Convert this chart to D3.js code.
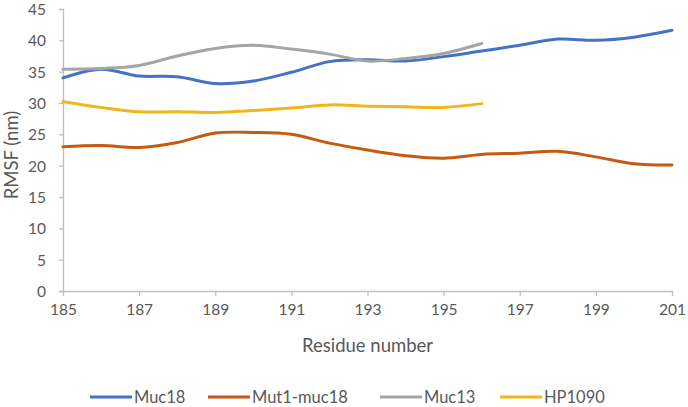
<!DOCTYPE html>
<html>
<head>
<meta charset="utf-8">
<script src="https://cdn.jsdelivr.net/npm/d3@7"></script>
<style>
  body { margin: 0; background: #fff; }
  text { font-family: Lato, "Open Sans", sans-serif; fill: #595959; }
</style>
</head>
<body>
<svg id="chart" width="688" height="407"></svg>
<script>
// residues along the x axis
var residues = [185, 186, 187, 188, 189, 190, 191, 192, 193, 194, 195, 196, 197, 198, 199, 200, 201]
var xTicks = [185, 187, 189, 191, 193, 195, 197, 199, 201]
var yTicks = [0, 5, 10, 15, 20, 25, 30, 35, 40, 45]

// RMSF values
var muc18 = [34.0, 35.4, 34.3, 34.2, 33.1, 33.5, 34.9, 36.6, 36.9, 36.7, 37.4, 38.3, 39.2, 40.2, 40.0, 40.5, 41.6]
var mut1muc18 = [23.0, 23.2, 22.9, 23.7, 25.2, 25.3, 25.0, 23.6, 22.5, 21.6, 21.2, 21.8, 22.0, 22.3, 21.4, 20.3, 20.1]
var muc13 = [35.4, 35.5, 36.0, 37.5, 38.7, 39.2, 38.6, 37.8, 36.7, 37.1, 37.9, 39.5]
var hp1090 = [30.2, 29.3, 28.6, 28.6, 28.5, 28.8, 29.2, 29.7, 29.5, 29.4, 29.3, 29.9]

var seriesNames = ['Muc18', 'Mut1-muc18', 'Muc13', 'HP1090']
var seriesValues = [muc18, mut1muc18, muc13, hp1090]
var colors = ['#4472C4', '#C55A11', '#A5A5A5', '#F0B71A']

var margin = {
  top: 9,
  right: 16,
  bottom: 116,
  left: 63
}
var width = 688
var height = 407

var svg = d3.select('#chart')

var xScale = d3.scaleLinear()
  .domain([185, 201])
  .range([margin.left, width - margin.right])

var yScale = d3.scaleLinear()
  .domain([0, 45])
  .range([height - margin.bottom, margin.top])

// y axis
var yAxis = d3.axisLeft(yScale)
  .tickValues(yTicks)
  .tickSize(4)
  .tickPadding(13)

var gy = svg.append('g')
  .attr('transform', 'translate(' + margin.left + ',0)')
  .call(yAxis)
gy.select('.domain').attr('stroke', '#BFBFBF').attr('stroke-width', 1.3)
gy.selectAll('.tick line').attr('stroke', '#BFBFBF').attr('stroke-width', 1.3)
gy.selectAll('.tick text').style('font-size', '15.5px').attr('fill', '#595959').attr('dy', '0.36em')

// x axis
var xAxis = d3.axisBottom(xScale)
  .tickValues(xTicks)
  .tickSize(5)
  .tickPadding(8)
  .tickSizeOuter(0)

var gx = svg.append('g')
  .attr('transform', 'translate(0,' + (height - margin.bottom) + ')')
  .call(xAxis)
gx.select('.domain').attr('stroke', '#BFBFBF').attr('stroke-width', 1.3)
gx.selectAll('.tick line').attr('stroke', '#BFBFBF').attr('stroke-width', 1.3)
gx.selectAll('.tick text').style('font-size', '15.5px').attr('fill', '#595959')

// lines
var line = d3.line()
  .x(function(d, i) { return xScale(residues[i]) })
  .y(function(d) { return yScale(d) })
  .curve(d3.curveCatmullRom.alpha(0))

seriesValues.forEach(function(vals, i) {
  svg.append('path')
    .datum(vals)
    .attr('d', line)
    .attr('fill', 'none')
    .attr('stroke', colors[i])
    .attr('stroke-width', 3)
    .attr('stroke-linecap', 'round')
})

// axis titles
svg.append('text')
  .attr('x', (xScale(185) + xScale(201)) / 2)
  .attr('y', 352)
  .attr('text-anchor', 'middle')
  .style('font-size', '18.5px')
  .text('Residue number')

svg.append('text')
  .attr('transform', 'translate(18,' + 155 + ') rotate(-90)')
  .attr('text-anchor', 'middle')
  .style('font-size', '18.5px')
  .text('RMSF (nm)')

// legend
var legendX = [90, 208, 380, 500]
var legend = svg.append('g')
seriesNames.forEach(function(name, i) {
  legend.append('line')
    .attr('x1', legendX[i])
    .attr('x2', legendX[i] + 42)
    .attr('y1', 397)
    .attr('y2', 397)
    .attr('stroke', colors[i])
    .attr('stroke-width', 3)
  legend.append('text')
    .attr('x', legendX[i] + 44)
    .attr('y', 402.5)
    .style('font-size', '16.5px')
    .text(name)
})
</script>
</body>
</html>
